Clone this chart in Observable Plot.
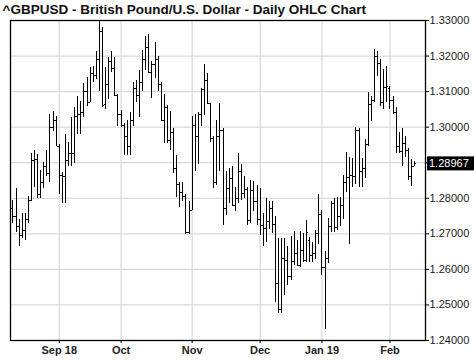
<!DOCTYPE html>
<html><head><meta charset="utf-8">
<script src="https://cdn.jsdelivr.net/npm/d3@7"></script>
<script src="https://cdn.jsdelivr.net/npm/@observablehq/plot@0.6"></script>
<style>html,body{margin:0;padding:0;background:#fff} svg{display:block}</style>
</head><body><div id="chart"></div>
<script>
const dates = ["2018-08-13","2018-08-14","2018-08-15","2018-08-16","2018-08-17","2018-08-20","2018-08-21","2018-08-22","2018-08-23","2018-08-24","2018-08-27","2018-08-28","2018-08-29","2018-08-30","2018-08-31",
"2018-09-03","2018-09-04","2018-09-05","2018-09-06","2018-09-07","2018-09-10","2018-09-11","2018-09-12","2018-09-13","2018-09-14","2018-09-17","2018-09-18","2018-09-19","2018-09-20","2018-09-21","2018-09-24","2018-09-25","2018-09-26","2018-09-27","2018-09-28",
"2018-10-01","2018-10-02","2018-10-03","2018-10-04","2018-10-05","2018-10-08","2018-10-09","2018-10-10","2018-10-11","2018-10-12","2018-10-15","2018-10-16","2018-10-17","2018-10-18","2018-10-19","2018-10-22","2018-10-23","2018-10-24","2018-10-25","2018-10-26","2018-10-29","2018-10-30","2018-10-31",
"2018-11-01","2018-11-02","2018-11-05","2018-11-06","2018-11-07","2018-11-08","2018-11-09","2018-11-12","2018-11-13","2018-11-14","2018-11-15","2018-11-16","2018-11-19","2018-11-20","2018-11-21","2018-11-22","2018-11-23","2018-11-26","2018-11-27","2018-11-28","2018-11-29","2018-11-30",
"2018-12-03","2018-12-04","2018-12-05","2018-12-06","2018-12-07","2018-12-10","2018-12-11","2018-12-12","2018-12-13","2018-12-14","2018-12-17","2018-12-18","2018-12-19","2018-12-20","2018-12-21","2018-12-24","2018-12-26","2018-12-27","2018-12-28","2018-12-31",
"2019-01-02","2019-01-03","2019-01-04","2019-01-07","2019-01-08","2019-01-09","2019-01-10","2019-01-11","2019-01-14","2019-01-15","2019-01-16","2019-01-17","2019-01-18","2019-01-21","2019-01-22","2019-01-23","2019-01-24","2019-01-25","2019-01-28","2019-01-29","2019-01-30","2019-01-31",
"2019-02-01","2019-02-04","2019-02-05","2019-02-06","2019-02-07","2019-02-08","2019-02-11","2019-02-12","2019-02-13"];

const open = [1.2770,1.2750,1.2722,1.2696,1.2710,1.2741,1.2795,1.2905,1.2910,1.2812,1.2845,1.2890,1.2870,1.3000,1.3020,
1.2945,1.2865,1.2860,1.2905,1.2927,1.2925,1.3030,1.3035,1.3040,1.3100,1.3070,1.3150,1.3145,1.3190,1.3270,1.3065,1.3120,1.3185,1.3165,1.3088,
1.3035,1.3005,1.2975,1.2945,1.3020,1.3110,1.3090,1.3125,1.3190,1.3225,1.3155,1.3175,1.3190,1.3120,1.3020,1.3055,1.2963,1.2985,1.2883,1.2840,1.2815,1.2805,1.2705,
1.2765,1.3005,1.2975,1.3035,1.3105,1.3130,1.3066,1.2968,1.2845,1.2973,1.2990,1.2770,1.2828,1.2856,1.2781,1.2800,1.2875,1.2814,1.2825,1.2738,1.2823,1.2790,
1.2740,1.2724,1.2715,1.2734,1.2770,1.2725,1.2560,1.2487,1.2630,1.2625,1.2580,1.2621,1.2645,1.2612,1.2652,1.2625,1.2680,1.2640,1.2645,1.2700,
1.2755,1.2605,1.2631,1.2720,1.2785,1.2718,1.2750,1.2780,1.2845,1.2859,1.2865,1.2860,1.2990,1.2874,1.2885,1.2950,1.3065,1.3075,1.3200,1.3180,1.3068,1.3112,
1.3110,1.3075,1.3042,1.2946,1.2932,1.2955,1.2935,1.2862,1.2890];

const high = [1.2795,1.2828,1.2739,1.2758,1.2758,1.2805,1.2927,1.2934,1.2922,1.2878,1.2902,1.2933,1.3035,1.3045,1.3030,
1.2950,1.2872,1.2980,1.2957,1.3028,1.3054,1.3087,1.3073,1.3122,1.3139,1.3167,1.3172,1.3214,1.3300,1.3280,1.3167,1.3195,1.3214,1.3195,1.3092,
1.3048,1.3010,1.3020,1.3040,1.3125,1.3130,1.3158,1.3216,1.3255,1.3260,1.3185,1.3237,1.3199,1.3125,1.3091,1.3062,1.3043,1.2996,1.2921,1.2845,1.2845,1.2812,1.2790,
1.3029,1.3035,1.3040,1.3109,1.3175,1.3152,1.3067,1.2975,1.3020,1.3067,1.2995,1.2875,1.2884,1.2889,1.2830,1.2927,1.2894,1.2860,1.2830,1.2851,1.2847,1.2837,
1.2828,1.2757,1.2800,1.2792,1.2790,1.2750,1.2687,1.2687,1.2687,1.2663,1.2692,1.2706,1.2680,1.2706,1.2700,1.2737,1.2690,1.2676,1.2709,1.2812,
1.2767,1.2650,1.2743,1.2790,1.2798,1.2803,1.2803,1.2864,1.2930,1.2915,1.2911,1.2998,1.2996,1.2911,1.2964,1.3097,1.3087,1.3218,1.3214,1.3190,1.3162,1.3170,
1.3115,1.3087,1.3054,1.2985,1.2996,1.2975,1.2940,1.2910,1.2903];

const low = [1.2729,1.2705,1.2663,1.2687,1.2682,1.2729,1.2792,1.2830,1.2800,1.2800,1.2828,1.2860,1.2845,1.2988,1.2946,
1.2812,1.2785,1.2785,1.2890,1.2890,1.2897,1.2979,1.2979,1.3028,1.3057,1.3068,1.3125,1.3134,1.3100,1.3055,1.3050,1.3077,1.3153,1.3085,1.3002,
1.2998,1.2921,1.2921,1.2921,1.3002,1.3068,1.3026,1.3100,1.3158,1.3152,1.3081,1.3138,1.3100,1.3015,1.2954,1.2954,1.2935,1.2869,1.2803,1.2774,1.2790,1.2699,1.2699,
1.2765,1.2875,1.2895,1.3001,1.3034,1.3064,1.2958,1.2827,1.2836,1.2875,1.2723,1.2752,1.2785,1.2776,1.2762,1.2785,1.2794,1.2798,1.2724,1.2730,1.2762,1.2724,
1.2696,1.2663,1.2677,1.2712,1.2700,1.2507,1.2477,1.2477,1.2527,1.2555,1.2570,1.2610,1.2607,1.2605,1.2620,1.2620,1.2619,1.2619,1.2629,1.2671,
1.2583,1.2430,1.2616,1.2705,1.2704,1.2710,1.2720,1.2740,1.2817,1.2671,1.2831,1.2838,1.2830,1.2831,1.2855,1.2946,1.3016,1.3068,1.3143,1.3059,1.3049,1.3070,
1.3049,1.3035,1.2927,1.2925,1.2890,1.2915,1.2850,1.2833,1.2889];

const close = [1.2750,1.2722,1.2696,1.2710,1.2741,1.2795,1.2905,1.2910,1.2812,1.2845,1.2890,1.2870,1.3000,1.3020,1.2960,
1.2865,1.2860,1.2905,1.2927,1.2925,1.3030,1.3035,1.3040,1.3100,1.3070,1.3150,1.3145,1.3190,1.3270,1.3062,1.3120,1.3185,1.3165,1.3088,1.3035,
1.3005,1.2975,1.2945,1.3020,1.3110,1.3090,1.3125,1.3190,1.3225,1.3155,1.3175,1.3190,1.3120,1.3020,1.3055,1.2963,1.2985,1.2883,1.2840,1.2815,1.2805,1.2705,1.2765,
1.3005,1.2975,1.3035,1.3105,1.3130,1.3066,1.2968,1.2845,1.2973,1.2990,1.2770,1.2828,1.2856,1.2781,1.2800,1.2875,1.2814,1.2825,1.2738,1.2823,1.2790,1.2733,
1.2724,1.2715,1.2734,1.2770,1.2725,1.2560,1.2487,1.2630,1.2625,1.2580,1.2621,1.2645,1.2612,1.2652,1.2625,1.2704,1.2640,1.2645,1.2700,1.2755,
1.2605,1.2631,1.2720,1.2785,1.2718,1.2750,1.2780,1.2845,1.2859,1.2865,1.2860,1.2990,1.2874,1.2885,1.2950,1.3065,1.3075,1.3200,1.3180,1.3068,1.3112,1.3115,
1.3075,1.3042,1.2946,1.2932,1.2955,1.2940,1.2862,1.2890,1.28967];

const yTicks = [1.24,1.25,1.26,1.27,1.28,1.29,1.30,1.31,1.32,1.33];
const hiddenLabel = 1.29; // 1.29000 lies behind the last-price box
const monthStarts = ["2018-09-03","2018-10-01","2018-11-01","2018-12-03","2019-01-02","2019-02-01"];
const monthLabels = ["Sep 18","Oct","Nov","Dec","Jan 19","Feb"];
const title = "^GBPUSD - British Pound/U.S. Dollar - Daily OHLC Chart";

const data = dates.map((d, i) => ({i, date: d, o: open[i], h: high[i], l: low[i], c: close[i]}));
const monthIdx = monthStarts.map(d => dates.indexOf(d));
const lastClose = close[close.length - 1];
const font = "'Liberation Sans', Arial, Helvetica, sans-serif";
const fmt = d3.format(".5f");

// last-price marker drawn with the plot's own y scale
function lastPriceMark(index, scales, values, dimensions) {
  const y = scales.y(lastClose);
  const x0 = dimensions.width - dimensions.marginRight + 2;
  const g = d3.create("svg:g");
  g.append("rect").attr("x", x0).attr("y", y - 7).attr("width", dimensions.width - x0).attr("height", 14).attr("fill", "#000");
  g.append("text").attr("x", x0 + 2).attr("y", y).attr("dy", "0.35em")
    .attr("fill", "#fff").attr("font-family", font).attr("font-size", 11).attr("text-anchor", "start")
    .text(fmt(lastClose));
  return g.node();
}

const plot = Plot.plot({
  width: 474, height: 361,
  marginTop: 20, marginLeft: 10, marginRight: 49, marginBottom: 21,
  style: {fontFamily: font, fontSize: "11px", color: "#000", background: "#fff"},
  x: {domain: [-0.78, 133.5], axis: null, label: null},
  y: {domain: [1.24, 1.33], axis: null, label: null},
  marks: [
    Plot.gridY(yTicks, {stroke: "#d9d9d9", strokeOpacity: 1, strokeWidth: 1.2}),
    Plot.gridX(monthIdx, {stroke: "#d9d9d9", strokeOpacity: 1, strokeWidth: 1.2}),
    Plot.ruleX(data, {x: "i", y1: "l", y2: "h", stroke: "#000", strokeWidth: 1, shapeRendering: "crispEdges"}),
    Plot.ruleY(data, {y: "o", x1: d => d.i - 0.5, x2: "i", stroke: "#000", strokeWidth: 1, shapeRendering: "crispEdges"}),
    Plot.ruleY(data, {y: "c", x1: "i", x2: d => d.i + 0.5, stroke: "#000", strokeWidth: 1, shapeRendering: "crispEdges"}),
    Plot.frame({stroke: "#000", strokeWidth: 1.3}),
    Plot.axisY(yTicks, {anchor: "right", label: null, tickFormat: d => d === hiddenLabel ? "" : fmt(d), tickSize: 3, tickPadding: 1, fontSize: 11, stroke: "#000", fill: "#222"}),
    Plot.axisX(monthIdx, {anchor: "bottom", label: null, tickFormat: d => monthLabels[monthIdx.indexOf(d)], tickSize: 3, tickPadding: 3, fontSize: 11, fontWeight: "bold", fill: "#222", stroke: "#000"}),
    Plot.text([title], {frameAnchor: "top-left", dx: -8, dy: -11, textAnchor: "start", lineAnchor: "middle", fontSize: 13.5, fontWeight: "bold", fill: "#111"}),
    lastPriceMark
  ]
});

document.getElementById("chart").appendChild(plot);
</script>
</body></html>
